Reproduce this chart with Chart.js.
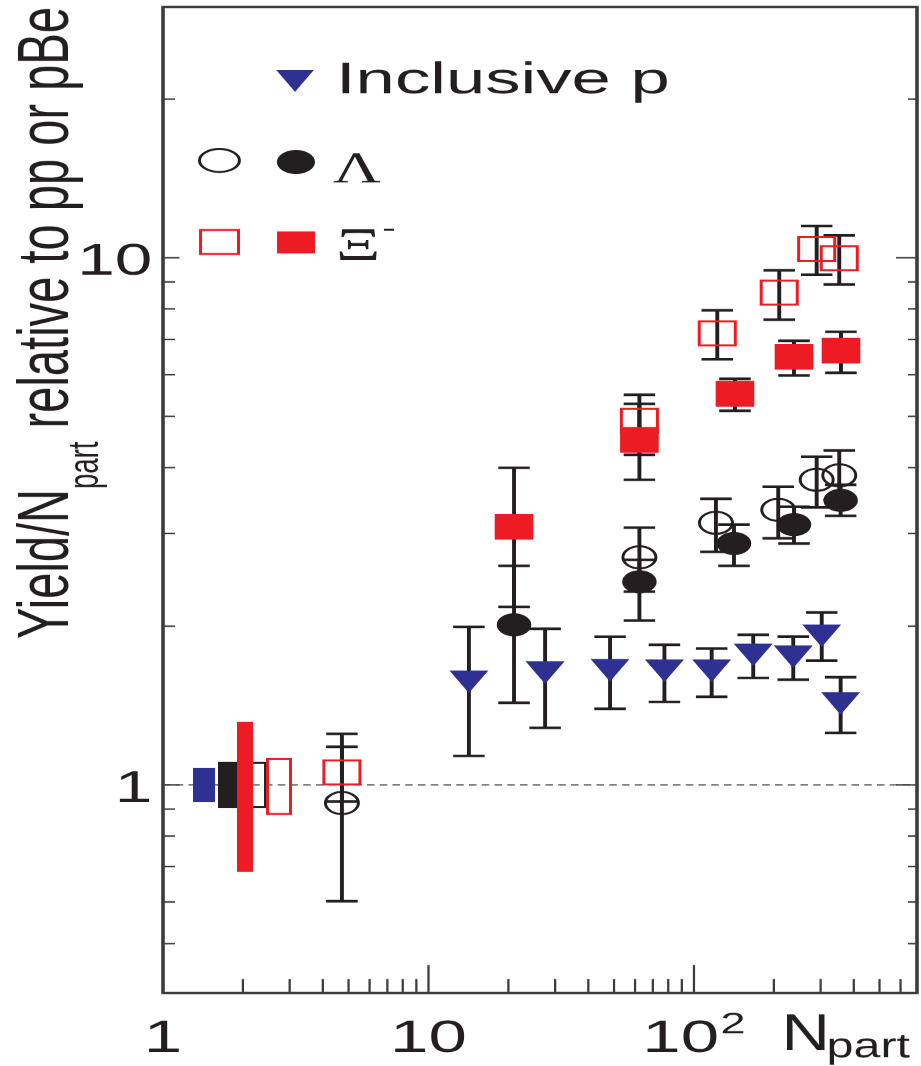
<!DOCTYPE html>
<html>
<head>
<meta charset="utf-8">
<script src="https://cdn.jsdelivr.net/npm/chart.js@4.4.1/dist/chart.umd.min.js"></script>
<style>
html, body { margin: 0; padding: 0; background: #fff; overflow: hidden; }
/* the figure is drawn 614 px wide and stretched sideways, like the original */
#wrap { width: 614px; height: 1066px; transform: scaleX(1.5); transform-origin: 0 0; }
</style>
</head>
<body>
<div id="wrap"><canvas id="chart"></canvas></div>
<script>
// inclusive p, Yield/Npart relative to pp
var pX  = [14.2, 27.5, 48.3, 77.4, 116.6, 167.2, 236.6, 302.9, 356.9];
var pY  = [1.595, 1.660, 1.677, 1.674, 1.674, 1.794, 1.779, 1.950, 1.451];
var pHi = [1.994, 1.977, 1.910, 1.844, 1.814, 1.926, 1.911, 2.124, 1.601];
var pLo = [1.135, 1.283, 1.394, 1.437, 1.469, 1.596, 1.584, 1.721, 1.255];

// Lambda, open symbols
var lamOpenX  = [4.72, 62.3, 121.0, 207.7, 289.9, 352.6];
var lamOpenY  = [0.924, 2.702, 3.142, 3.325, 3.792, 3.867];
var lamOpenHi = [1.181, 3.077, 3.489, 3.678, 4.193, 4.309];
var lamOpenLo = [0.602, 2.327, 2.768, 2.936, 3.362, 3.474];

// Lambda, filled symbols
var lamX  = [21.0, 62.3, 141.5, 238.1, 356.9];
var lamY  = [2.012, 2.428, 2.870, 3.117, 3.465];
var lamHi = [2.604, 2.673, 3.117, 3.370, 3.709];
var lamLo = [1.431, 2.050, 2.604, 2.870, 3.239];

// Xi-, open symbols
var xiOpenX  = [4.72, 62.3, 122.4, 209.5, 289.9, 352.6];
var xiOpenY  = [1.056, 4.905, 7.188, 8.584, 10.39, 9.974];
var xiOpenHi = [1.250, 5.495, 7.947, 9.464, 11.49, 11.03];
var xiOpenLo = [0.930, 4.229, 6.419, 7.630, 9.284, 8.899];

// Xi-, filled symbols
var xiX  = [21.0, 62.3, 142.7, 238.1, 357.9];
var xiY  = [3.087, 4.514, 5.522, 6.487, 6.664];
var xiHi = [3.996, 5.284, 5.894, 6.958, 7.238];
var xiLo = [2.176, 3.792, 5.125, 5.982, 6.050];

// normalisation boxes at the left (p, Lambda, Lambda open, Xi, Xi open)
var sysNames = ['p', 'Lambda', 'Lambda open', 'Xi', 'Xi open'];
var sysXFrom = [1.297, 1.611, 1.900, 1.900, 2.443];
var sysXTo   = [1.570, 1.900, 2.465, 2.183, 3.061];
var sysLo    = [0.928, 0.904, 0.904, 0.684, 0.877];
var sysHi    = [1.077, 1.106, 1.106, 1.317, 1.125];

// axis ticks
var xTickValues = [1, 10, 100];
var xTickLabels = ['1', '10', '10'];
var xTickPowers = ['', '', '2'];
var xMinorTicks = [2, 3, 4, 5, 6, 7, 8, 9, 20, 30, 40, 50, 60, 70, 80, 90, 200, 300, 400, 500, 600];
var yTickValues = [1, 10];
var yTickLabels = ['1', '10'];
var yMinorTicks = [0.5, 0.6, 0.7, 0.8, 0.9, 2, 3, 4, 5, 6, 7, 8, 9, 20];

var BLACK = '#231f20', RED = '#ed1c24', BLUE = '#2e3192', AXIS = '#3c3c3c';
var sysStyle = [
    {fill: true, color: BLUE},
    {fill: true, color: BLACK},
    {fill: false, color: BLACK},
    {fill: true, color: RED},
    {fill: false, color: RED}
];

function pts(xs, ys){
    return xs.map(function(x, i){ return {x: x, y: ys[i]}; });
}

// text with its own sideways squeeze, anchored left/center/right
function drawText(ctx, text, font, x, y, align, sx){
    ctx.save();
    ctx.font = font;
    ctx.textAlign = 'left';
    ctx.textBaseline = 'alphabetic';
    var w = ctx.measureText(text).width * sx;
    var left = align == 'right' ? x - w : (align == 'center' ? x - w / 2 : x);
    ctx.translate(left, y);
    ctx.scale(sx, 1);
    ctx.fillText(text, 0, 0);
    ctx.restore();
    return w;
}

var frame = {
    id: 'frame',
    beforeDatasetsDraw: function(chart){
        var ctx = chart.ctx, xs = chart.scales.x, ys = chart.scales.y, a = chart.chartArea;
        ctx.save();

        // dashed line at 1
        var y1 = ys.getPixelForValue(1);
        ctx.setLineDash([5, 3.5]);
        ctx.lineWidth = 1.3;
        ctx.strokeStyle = '#333';
        ctx.beginPath();
        ctx.moveTo(a.left, y1);
        ctx.lineTo(a.right, y1);
        ctx.stroke();
        ctx.setLineDash([]);

        // normalisation boxes
        for (var i = 0; i < sysNames.length; i++){
            var l = xs.getPixelForValue(sysXFrom[i]), r = xs.getPixelForValue(sysXTo[i]);
            var t = ys.getPixelForValue(sysHi[i]), b = ys.getPixelForValue(sysLo[i]);
            if (sysStyle[i].fill){
                ctx.fillStyle = sysStyle[i].color;
                ctx.fillRect(l, t, r - l, b - t);
            } else {
                ctx.lineWidth = 2;
                ctx.strokeStyle = sysStyle[i].color;
                ctx.strokeRect(l + 1, t + 1, r - l - 2, b - t - 2);
            }
        }

        // error bars
        ctx.strokeStyle = BLACK;
        ctx.lineWidth = 2.6;
        var cap = 10.5;
        function bars(xv, hi, lo){
            for (var i = 0; i < xv.length; i++){
                var x = xs.getPixelForValue(xv[i]);
                var t = ys.getPixelForValue(hi[i]), b = ys.getPixelForValue(lo[i]);
                ctx.beginPath();
                ctx.moveTo(x, t); ctx.lineTo(x, b);
                ctx.moveTo(x - cap, t); ctx.lineTo(x + cap, t);
                ctx.moveTo(x - cap, b); ctx.lineTo(x + cap, b);
                ctx.stroke();
            }
        }
        bars(pX, pHi, pLo);
        bars(lamOpenX, lamOpenHi, lamOpenLo);
        bars(lamX, lamHi, lamLo);
        bars(xiOpenX, xiOpenHi, xiOpenLo);
        bars(xiX, xiHi, xiLo);
        ctx.restore();
    },
    afterDraw: function(chart){
        var ctx = chart.ctx, xs = chart.scales.x, ys = chart.scales.y, a = chart.chartArea;
        ctx.save();

        // box round the plot
        ctx.strokeStyle = AXIS;
        ctx.lineWidth = 2.4;
        ctx.strokeRect(a.left, a.top, a.right - a.left, a.bottom - a.top);

        // inward ticks
        ctx.lineWidth = 1.5;
        ctx.beginPath();
        xMinorTicks.forEach(function(v){
            var x = xs.getPixelForValue(v);
            ctx.moveTo(x, a.bottom); ctx.lineTo(x, a.bottom - 14);
        });
        xTickValues.slice(1).forEach(function(v){
            var x = xs.getPixelForValue(v);
            ctx.moveTo(x, a.bottom); ctx.lineTo(x, a.bottom - 28);
        });
        yMinorTicks.forEach(function(v){
            var y = ys.getPixelForValue(v);
            ctx.moveTo(a.left, y); ctx.lineTo(a.left + 8, y);
            ctx.moveTo(a.right, y); ctx.lineTo(a.right - 6, y);
        });
        yTickValues.forEach(function(v){
            var y = ys.getPixelForValue(v);
            ctx.moveTo(a.left, y); ctx.lineTo(a.left + 11, y);
            ctx.moveTo(a.right, y); ctx.lineTo(a.right - 14, y);
        });
        ctx.stroke();

        ctx.fillStyle = BLACK;
        var SANS = '"Liberation Sans", Arial, sans-serif';
        var SERIF = '"Liberation Serif", "Times New Roman", serif';

        // y tick labels
        yTickValues.forEach(function(v, i){
            drawText(ctx, yTickLabels[i], '45px ' + SANS, 101.5, ys.getPixelForValue(v) + 17, 'right', 1.0);
        });

        // x tick labels, 10^2 with a raised power
        xTickValues.forEach(function(v, i){
            var x = xs.getPixelForValue(v);
            ctx.font = '46px ' + SANS;
            var w1 = ctx.measureText(xTickLabels[i]).width;
            ctx.font = '30px ' + SANS;
            var w2 = xTickPowers[i] ? ctx.measureText(xTickPowers[i]).width + 1 : 0;
            var left = x - (w1 + w2) / 2;
            drawText(ctx, xTickLabels[i], '46px ' + SANS, left, 1052, 'left', 1.0);
            if (xTickPowers[i]) drawText(ctx, xTickPowers[i], '30px ' + SANS, left + w1 + 1, 1033, 'left', 1.0);
        });

        // x title
        drawText(ctx, 'N', '52px ' + SANS, 521, 1050, 'left', 0.86);
        drawText(ctx, 'part', '34px ' + SANS, 551, 1057, 'left', 0.95);

        // y title, rotated, fitted to its length on the page
        ctx.save();
        ctx.translate(45.3, 639);
        ctx.rotate(-Math.PI / 2);
        var f1 = '48px ' + SANS, f2 = '28px ' + SANS;
        ctx.font = f1;
        var w1 = ctx.measureText('Yield/N').width;
        var w3 = ctx.measureText(' relative to pp or pBe').width;
        ctx.font = f2;
        var w2 = ctx.measureText('part').width;
        ctx.scale(632 / (w1 + w2 + w3), 1);
        ctx.textAlign = 'left';
        ctx.textBaseline = 'alphabetic';
        ctx.font = f1; ctx.fillText('Yield/N', 0, 0);
        ctx.font = f2; ctx.fillText('part', w1, 20);
        ctx.font = f1; ctx.fillText(' relative to pp or pBe', w1 + w2, 0);
        ctx.restore();

        // legend
        // inclusive p
        var r = 14.5, cx = 196.7, cy = 77.3;
        ctx.fillStyle = BLUE;
        ctx.beginPath();
        ctx.moveTo(cx - r * 0.866, cy - r * 0.5);
        ctx.lineTo(cx + r * 0.866, cy - r * 0.5);
        ctx.lineTo(cx, cy + r);
        ctx.closePath();
        ctx.fill();
        ctx.fillStyle = BLACK;
        drawText(ctx, 'Inclusive p', '44px ' + SANS, 224, 93, 'left', 1.07);

        // Lambda
        ctx.strokeStyle = BLACK;
        ctx.lineWidth = 2;
        ctx.beginPath();
        ctx.ellipse(146.3, 160.5, 13.3, 11.5, 0, 0, Math.PI * 2);
        ctx.stroke();
        ctx.fillStyle = BLACK;
        ctx.beginPath();
        ctx.ellipse(197.3, 162, 12.7, 12, 0, 0, Math.PI * 2);
        ctx.fill();
        drawText(ctx, '\u039B', '44px ' + SERIF, 222, 182, 'left', 1.0);

        // Xi-
        ctx.strokeStyle = RED;
        ctx.lineWidth = 2;
        ctx.strokeRect(133.7, 230, 25.3, 24);
        ctx.fillStyle = RED;
        ctx.fillRect(184.7, 231.5, 25.3, 22);
        ctx.fillStyle = BLACK;
        drawText(ctx, '\u039E', '46px ' + SERIF, 224, 260, 'left', 1.0);
        drawText(ctx, '-', '26px ' + SERIF, 255, 236, 'left', 1.0);

        ctx.restore();
    }
};

new Chart(document.getElementById('chart'), {
    type: 'scatter',
    data: {
        datasets: [
            {
                label: 'Xi- filled',
                data: pts(xiX, xiY),
                pointStyle: 'rect',
                pointRadius: 17.5,
                pointBackgroundColor: RED,
                pointBorderColor: RED,
                pointBorderWidth: 1,
                order: 1
            },
            {
                label: 'Xi- open',
                data: pts(xiOpenX, xiOpenY),
                pointStyle: 'rect',
                pointRadius: 17,
                pointBackgroundColor: 'rgba(0,0,0,0)',
                pointBorderColor: RED,
                pointBorderWidth: 2,
                order: 2
            },
            {
                label: 'Lambda filled',
                data: pts(lamX, lamY),
                pointStyle: 'circle',
                pointRadius: 11,
                pointBackgroundColor: BLACK,
                pointBorderColor: BLACK,
                pointBorderWidth: 1,
                order: 3
            },
            {
                label: 'Lambda open',
                data: pts(lamOpenX, lamOpenY),
                pointStyle: 'circle',
                pointRadius: 11,
                pointBackgroundColor: 'rgba(0,0,0,0)',
                pointBorderColor: BLACK,
                pointBorderWidth: 2,
                order: 4
            },
            {
                label: 'Inclusive p',
                data: pts(pX, pY),
                pointStyle: 'triangle',
                pointRotation: 180,
                pointRadius: 14,
                pointBackgroundColor: BLUE,
                pointBorderColor: BLUE,
                pointBorderWidth: 1,
                order: 5
            }
        ]
    },
    options: {
        responsive: true,
        maintainAspectRatio: false,
        animation: false,
        devicePixelRatio: 1.5,
        events: [],
        layout: { autoPadding: false, padding: { left: 0, right: 2.67, top: 7, bottom: 0 } },
        plugins: {
            legend: { display: false },
            tooltip: { enabled: false }
        },
        scales: {
            x: {
                type: 'logarithmic',
                min: 1,
                max: 692,
                grid: { display: false },
                border: { display: false },
                ticks: { display: false },
                afterFit: function(s){ s.height = 73; }
            },
            y: {
                type: 'logarithmic',
                min: 0.403,
                max: 29.9,
                grid: { display: false },
                border: { display: false },
                ticks: { display: false },
                afterFit: function(s){ s.width = 108.67; }
            }
        }
    },
    plugins: [frame]
});
</script>
</body>
</html>
